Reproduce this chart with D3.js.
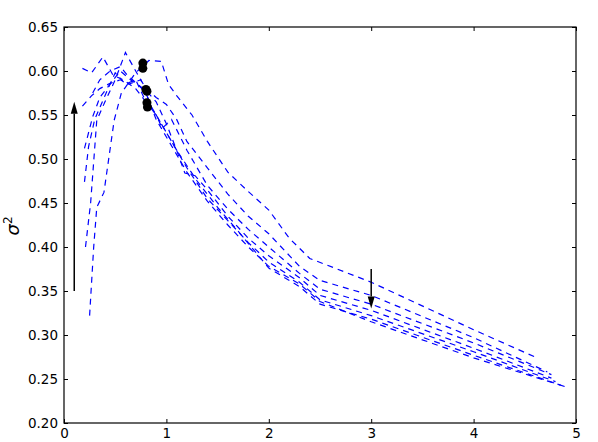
<!DOCTYPE html>
<html>
<head>
<meta charset="utf-8">
<script src="https://cdn.jsdelivr.net/npm/d3@7"></script>
<style>
  body { margin: 0; background: #fff; }
  text { font-family: "DejaVu Sans", sans-serif; }
</style>
</head>
<body>
<svg id="chart" width="598" height="442"></svg>
<script>
"use strict";

// one list of [x, sigma^2] points per dashed curve
const curve1 = [[0.25,0.322],[0.29,0.40],[0.32,0.445],[0.39,0.462],[0.49,0.544],[0.56,0.575],[0.7,0.598],[0.83,0.612],[0.95,0.611],[1.02,0.585],[1.1,0.572],[1.25,0.55],[1.4,0.52],[1.6,0.485],[1.8,0.463],[2.0,0.442],[2.2,0.41],[2.4,0.387],[3.0,0.36],[4.0,0.306],[4.6,0.275]];
const curve2 = [[0.21,0.40],[0.26,0.45],[0.32,0.544],[0.4,0.565],[0.5,0.59],[0.6,0.621],[0.7,0.6],[0.8,0.58],[0.9,0.57],[1.0,0.562],[1.1,0.545],[1.2,0.52],[1.4,0.49],[1.6,0.46],[1.8,0.435],[2.0,0.415],[2.3,0.378],[2.5,0.362],[3.0,0.345],[4.0,0.297],[4.72,0.258]];
const curve3 = [[0.2,0.474],[0.24,0.514],[0.3,0.545],[0.4,0.572],[0.5,0.598],[0.6,0.585],[0.7,0.59],[0.8,0.565],[0.9,0.55],[0.96,0.535],[1.05,0.545],[1.2,0.51],[1.4,0.47],[1.6,0.443],[1.8,0.42],[2.0,0.40],[2.3,0.37],[2.5,0.352],[3.0,0.335],[4.0,0.291],[4.76,0.255]];
const curve4 = [[0.2,0.512],[0.28,0.548],[0.35,0.57],[0.45,0.585],[0.55,0.6],[0.65,0.59],[0.8,0.578],[0.9,0.565],[1.0,0.54],[1.1,0.51],[1.18,0.484],[1.28,0.481],[1.4,0.465],[1.6,0.435],[1.8,0.41],[2.0,0.39],[2.3,0.365],[2.5,0.345],[3.0,0.328],[4.0,0.285],[4.76,0.251]];
const curve5 = [[0.18,0.56],[0.27,0.572],[0.35,0.58],[0.45,0.586],[0.55,0.59],[0.63,0.585],[0.75,0.59],[0.85,0.56],[0.95,0.54],[1.05,0.52],[1.2,0.49],[1.4,0.455],[1.6,0.43],[1.8,0.405],[2.0,0.383],[2.3,0.36],[2.5,0.34],[3.0,0.322],[4.0,0.281],[4.8,0.247]];
const curve6 = [[0.18,0.603],[0.27,0.598],[0.38,0.616],[0.48,0.595],[0.58,0.59],[0.7,0.58],[0.8,0.565],[0.9,0.55],[1.0,0.53],[1.1,0.51],[1.3,0.475],[1.5,0.445],[1.7,0.418],[1.9,0.39],[2.0,0.376],[2.3,0.355],[2.5,0.335],[3.0,0.318],[4.0,0.277],[4.9,0.241]];
const curve7 = [[0.28,0.575],[0.35,0.59],[0.45,0.6],[0.55,0.605],[0.62,0.595],[0.72,0.585],[0.8,0.575],[0.9,0.545],[1.0,0.525],[1.2,0.485],[1.4,0.452],[1.6,0.425],[1.8,0.40],[2.0,0.378],[2.3,0.358],[2.5,0.338],[3.0,0.315],[4.0,0.274],[4.85,0.243]];
const curves = [curve1, curve2, curve3, curve4, curve5, curve6, curve7];

// black markers
const dotsX = [0.77, 0.77, 0.8, 0.81, 0.81, 0.815];
const dotsY = [0.609, 0.603, 0.579, 0.577, 0.564, 0.559];

// arrows: [x, yFrom, yTo]
const arrows = [[0.1, 0.35, 0.565], [3.0, 0.375, 0.33]];

const xTicks = [0, 1, 2, 3, 4, 5];
const yTicks = [0.20, 0.25, 0.30, 0.35, 0.40, 0.45, 0.50, 0.55, 0.60, 0.65];

const margin = {left: 64, top: 27, right: 22, bottom: 19};
const width = 598 - margin.left - margin.right;
const height = 442 - margin.top - margin.bottom;

const svg = d3.select("#chart");
const chart = svg.append("g")
  .attr("transform", `translate(${margin.left}, ${margin.top})`);

const xScale = d3.scaleLinear().domain([0, 5]).range([0, width]);
const yScale = d3.scaleLinear().domain([0.2, 0.65]).range([height, 0]);

const line = d3.line()
  .x(d => xScale(d[0]))
  .y(d => yScale(d[1]));

chart.selectAll(".curve")
  .data(curves)
  .enter()
  .append("path")
  .attr("class", "curve")
  .attr("d", line)
  .attr("fill", "none")
  .attr("stroke", "#0000ff")
  .attr("stroke-width", 1.2)
  .attr("stroke-dasharray", "6,5");

chart.selectAll(".dot")
  .data(dotsX)
  .enter()
  .append("circle")
  .attr("cx", d => xScale(d))
  .attr("cy", (d, i) => yScale(dotsY[i]))
  .attr("r", 4.5)
  .attr("fill", "#000");

// arrows
arrows.forEach(a => {
  const x = xScale(a[0]);
  const y0 = yScale(a[1]);
  const y1 = yScale(a[2]);
  const dir = y1 < y0 ? 1 : -1;
  const headLen = 12;
  chart.append("line")
    .attr("x1", x).attr("x2", x)
    .attr("y1", y0).attr("y2", y1 + dir * headLen)
    .attr("stroke", "#000")
    .attr("stroke-width", 1.5);
  chart.append("path")
    .attr("d", `M${x},${y1} L${x - 3.5},${y1 + dir * headLen} L${x + 3.5},${y1 + dir * headLen} Z`)
    .attr("fill", "#000");
});

// axes with inward ticks on all four sides
function styleAxis(g) {
  g.select(".domain").remove();
  g.selectAll(".tick line").attr("stroke", "#000");
  g.selectAll(".tick text").attr("font-size", "13.5px").attr("fill", "#000")
    .attr("font-family", "DejaVu Sans, sans-serif");
}

chart.append("g")
  .attr("transform", `translate(0, ${height})`)
  .call(d3.axisBottom(xScale).tickValues(xTicks).tickFormat(d3.format("d"))
    .tickSizeInner(-4).tickPadding(5))
  .call(styleAxis);

chart.append("g")
  .call(d3.axisTop(xScale).tickValues(xTicks).tickSizeInner(-4).tickFormat(""))
  .call(styleAxis);

chart.append("g")
  .call(d3.axisLeft(yScale).tickValues(yTicks).tickFormat(d3.format(".2f"))
    .tickSizeInner(-4).tickPadding(6))
  .call(styleAxis);

chart.append("g")
  .attr("transform", `translate(${width}, 0)`)
  .call(d3.axisRight(yScale).tickValues(yTicks).tickSizeInner(-4).tickFormat(""))
  .call(styleAxis);

chart.append("rect")
  .attr("width", width)
  .attr("height", height)
  .attr("fill", "none")
  .attr("stroke", "#000")
  .attr("stroke-width", 1.2);

// y label
const ylab = svg.append("text")
  .attr("transform", `translate(19, 226) rotate(-90)`)
  .attr("text-anchor", "middle")
  .attr("font-size", "18px");
ylab.append("tspan").attr("font-style", "italic").text("σ");
ylab.append("tspan").attr("font-size", "12px").attr("dy", "-7").text("2");
</script>
</body>
</html>
